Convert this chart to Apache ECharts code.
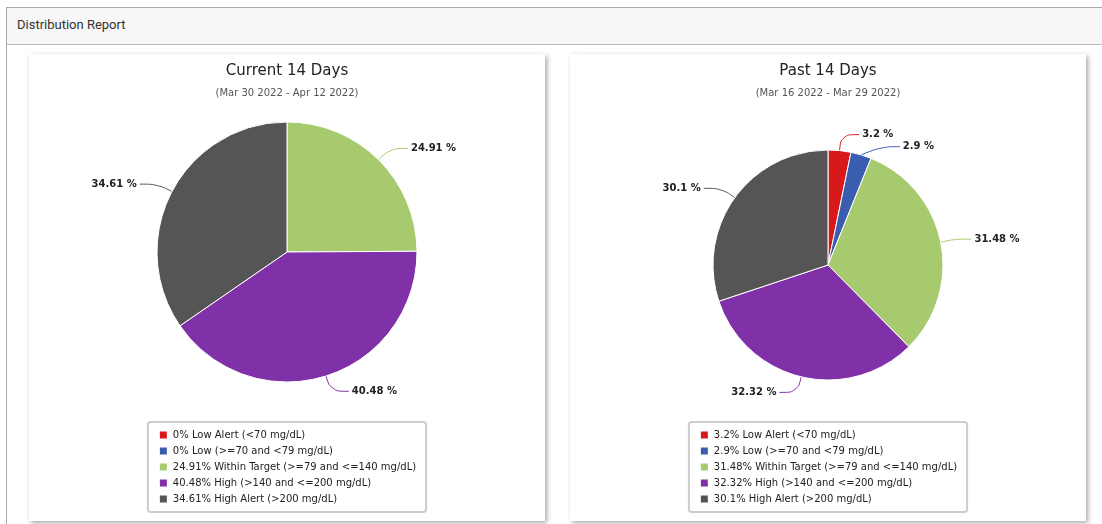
<!DOCTYPE html>
<html>
<head>
<meta charset="utf-8">
<script src="https://cdn.jsdelivr.net/npm/echarts@6/dist/echarts.min.js"></script>
<style>
  html, body { margin: 0; padding: 0; background: #fff; width: 1102px; height: 524px; overflow: hidden; }
  .panel { position: absolute; left: 6px; top: 7px; width: 1110px; height: 530px; border: 1px solid #aaa; background: #fff; }
  .panel-head { height: 36px; background: #f7f7f7; border-bottom: 1px solid #bbb; font-family: Roboto, "Open Sans", sans-serif; font-size: 13px; color: #333; line-height: 34px; padding-left: 10px; }
  .card { position: absolute; top: 46px; width: 516px; height: 467px; background: #fff; box-shadow: 2px 2px 5px rgba(0,0,0,0.35); }
  #cardLeft { left: 22px; }
  #cardRight { left: 563px; }
  .chart { width: 100%; height: 100%; }
</style>
</head>
<body>
<div class="panel">
  <div class="panel-head">Distribution Report</div>
  <div class="card" id="cardLeft"><div class="chart" id="currentChart"></div></div>
  <div class="card" id="cardRight"><div class="chart" id="pastChart"></div></div>
</div>
<script>
var categories = ['Low Alert (<70 mg/dL)', 'Low (>=70 and <79 mg/dL)', 'Within Target (>=79 and <=140 mg/dL)', 'High (>140 and <=200 mg/dL)', 'High Alert (>200 mg/dL)'];
var colors = ['#d7191c', '#3a5db0', '#a8ca6e', '#8031a7', '#555555'];
var currentValues = [0, 0, 24.91, 40.48, 34.61];
var pastValues = [3.2, 2.9, 31.48, 32.32, 30.1];

var fontFam = '"DejaVu Sans", Verdana, sans-serif';

function buildOption(title, range, values, radius, centerY) {
    var data = values.map(function (v, i) {
        return {
            name: v + '% ' + categories[i],
            value: v,
            itemStyle: { color: colors[i] },
            label: { show: v > 0 },
            labelLine: { show: v > 0 }
        };
    });
    return {
        animation: false,
        title: {
            text: title,
            subtext: range,
            left: 'center',
            top: 5,
            itemGap: 9,
            textStyle: { fontFamily: fontFam, fontSize: 15, fontWeight: 'normal', color: '#222' },
            subtextStyle: { fontFamily: fontFam, fontSize: 10, color: '#555' }
        },
        legend: {
            orient: 'vertical',
            left: 'center',
            top: 368,
            padding: [7, 10, 7, 10],
            itemWidth: 9,
            itemHeight: 9,
            itemGap: 4,
            icon: 'rect',
            borderColor: '#ccc',
            borderWidth: 2,
            borderRadius: 3,
            textStyle: { fontFamily: fontFam, fontSize: 10, color: '#222', lineHeight: 12 },
            data: data.map(function (d) { return d.name; })
        },
        series: [{
            type: 'pie',
            radius: radius,
            center: ['50%', centerY],
            startAngle: 90,
            clockwise: true,
            avoidLabelOverlap: true,
            itemStyle: { borderColor: '#fff', borderWidth: 1 },
            label: {
                formatter: '{c} %',
                fontFamily: fontFam,
                fontSize: 10,
                fontWeight: 'bold',
                color: '#222',
                distanceToLabelLine: 3
            },
            labelLine: { length: 16, length2: 18, smooth: 0.4 },
            data: data
        }]
    };
}

var currentChart = echarts.init(document.getElementById('currentChart'));
currentChart.setOption(buildOption('Current 14 Days', '(Mar 30 2022 - Apr 12 2022)', currentValues, 130, 198));

var pastChart = echarts.init(document.getElementById('pastChart'));
pastChart.setOption(buildOption('Past 14 Days', '(Mar 16 2022 - Mar 29 2022)', pastValues, 115, 211));
</script>
</body>
</html>
